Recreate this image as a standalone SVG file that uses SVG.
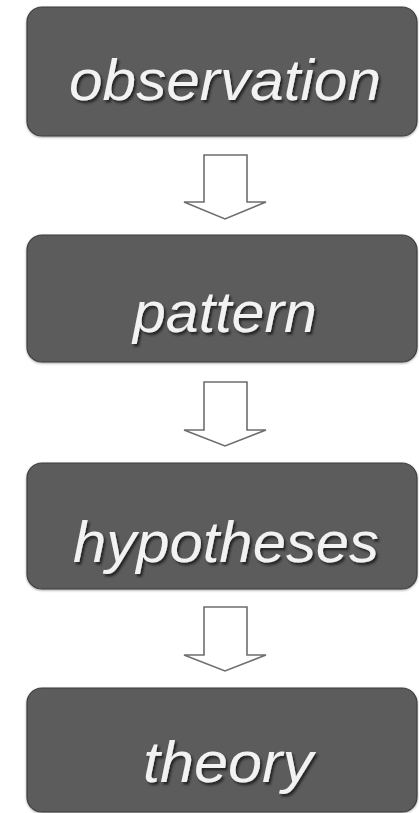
<svg xmlns="http://www.w3.org/2000/svg" width="419" height="813" viewBox="0 0 419 813">
<defs>
<filter id="emb" x="-10%" y="-30%" width="120%" height="160%">
<feDropShadow dx="2" dy="2.5" stdDeviation="1" flood-color="#1a1a1a" flood-opacity="0.9"/>
</filter>
<filter id="bsh" x="-5%" y="-10%" width="110%" height="120%">
<feDropShadow dx="0" dy="1" stdDeviation="1.2" flood-color="#000" flood-opacity="0.35"/>
</filter>
</defs>
<style>
.box{fill:#5b5b5b;stroke:#3f3f3f;stroke-width:1.2;filter:url(#bsh)}
.lbl{font-family:"Liberation Sans",Arial,sans-serif;font-style:italic;font-size:58px;fill:#f2f2f2;text-anchor:middle;filter:url(#emb)}
.arr{fill:#ffffff;stroke:#6e6e6e;stroke-width:1.6;stroke-linejoin:miter}
</style>
<rect width="419" height="813" fill="#ffffff"/>
<g id="connectors">
<polygon class="arr" points="204,155 247,155 247,202 266,202 225,219 184,202 204,202"/>
<polygon class="arr" points="204,382 247,382 247,430 266,430 225,446 184,430 204,430"/>
<polygon class="arr" points="204,607 247,607 247,655 266,655 225,671 184,655 204,655"/>
</g>
<g id="observation">
<rect class="box" x="27" y="7" width="390" height="129" rx="15"/>
<text class="lbl" x="225" y="100" textLength="312" lengthAdjust="spacingAndGlyphs">observation</text>
</g>
<g id="pattern">
<rect class="box" x="27" y="235" width="390" height="127" rx="15"/>
<text class="lbl" x="225" y="332" textLength="184" lengthAdjust="spacingAndGlyphs">pattern</text>
</g>
<g id="hypotheses">
<rect class="box" x="27" y="463" width="390" height="126" rx="15"/>
<text class="lbl" x="226" y="562" textLength="306" lengthAdjust="spacingAndGlyphs">hypotheses</text>
</g>
<g id="theory">
<rect class="box" x="27" y="688" width="390" height="124" rx="15"/>
<text class="lbl" x="228" y="782" textLength="170" lengthAdjust="spacingAndGlyphs">theory</text>
</g>
</svg>
